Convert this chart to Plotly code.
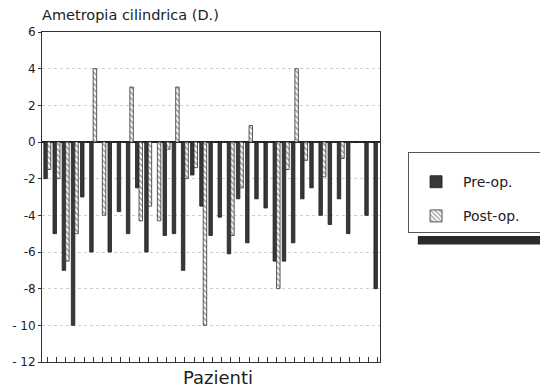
import plotly.graph_objects as go

patients = list(range(1, 38))
pre_op = [-2, -5, -7, -10, -3, -6, 0, -6, -3.8, -5, -2.5, -6, 0, -5.1, -5, -7, -1.8,
          -3.5, -5.1, -4.1, -6.1, -3.1, -5.5, -3.1, -3.6, -6.5, -6.5, -5.5, -3.1,
          -2.5, -4, -4.5, -3.1, -5, 0, -4, -8]
post_op = [-1.5, -2, -6.5, -5, 0, 4, -4, 0, 0, 3, -4.3, -3.5, -4.3, -0.4, 3, -2,
           -1.4, -10, 0, 0, -5.1, -2.5, 0.9, 0, 0, -8, -1.5, 4, -1, 0, -1.9, 0,
           -0.9, 0, 0, 0, 0]
y_ticks = [-12, -10, -8, -6, -4, -2, 0, 2, 4, 6]
y_ticktext = ["- 12", "- 10", "-8", "-6", "-4", "-2", "0", "2", "4", "6"]

FONT = "DejaVu Sans, Liberation Sans, sans-serif"

fig = go.Figure()
fig.add_trace(go.Bar(
    x=patients, y=pre_op, name="Pre-op.", legendgroup="a",
    marker=dict(color="#383838", line=dict(color="#1e1e1e", width=0.8)),
))
fig.add_trace(go.Bar(
    x=patients, y=post_op, name="Post-op.", legendgroup="b",
    marker=dict(color="white", line=dict(color="#333", width=0.8),
                pattern=dict(shape="\\", fgcolor="#444", bgcolor="white",
                             size=4, solidity=0.45)),
))

# legend shadow
fig.add_shape(type="rect", xref="paper", yref="paper",
              x0=1.112, x1=1.6, y0=0.356, y1=0.382,
              fillcolor="#2a2a2a", line=dict(width=0), layer="below")

fig.add_annotation(text="Ametropia cilindrica (D.)", xref="paper", yref="paper",
                   x=-0.006, y=1.052, xanchor="left", yanchor="middle",
                   showarrow=False, font=dict(family=FONT, size=14.5, color="#222"))
fig.add_annotation(text="Pazienti", xref="paper", yref="paper",
                   x=0.52, y=-0.048, xanchor="center", yanchor="middle",
                   showarrow=False, font=dict(family=FONT, size=18, color="#222"))

fig.update_layout(
    width=548, height=390,
    margin=dict(l=34, r=176, t=24, b=36, autoexpand=False),
    paper_bgcolor="white", plot_bgcolor="white",
    barmode="group", bargap=0.24, bargroupgap=0.0,
    font=dict(family=FONT, size=13, color="#222"),
    showlegend=True,
    legend=dict(x=1.083, y=0.636, xanchor="left", yanchor="top",
                bgcolor="white", bordercolor="#555", borderwidth=1,
                font=dict(family=FONT, size=14, color="#222"),
                traceorder="grouped", tracegroupgap=13,
                itemwidth=44,
                title=dict(text="\u00a0" * 48, font=dict(size=10))),
    xaxis=dict(range=[0.42, 37.28], tickvals=patients, showticklabels=False,
               ticks="inside", ticklen=5, tickcolor="#333", automargin=False,
               showline=True, linecolor="#333", linewidth=1, mirror=True,
               showgrid=False, zeroline=False),
    yaxis=dict(range=[-12, 6], tickvals=y_ticks, ticktext=y_ticktext,
               ticks="outside", ticklen=3, tickcolor="#333", automargin=False,
               showline=True, linecolor="#333", linewidth=1, mirror=True,
               showgrid=True, gridcolor="#cfcfcf", griddash="dot", gridwidth=1,
               zeroline=True, zerolinecolor="#222", zerolinewidth=1.5,
               tickfont=dict(family=FONT, size=12, color="#222")),
)

fig.write_html("out.html")
